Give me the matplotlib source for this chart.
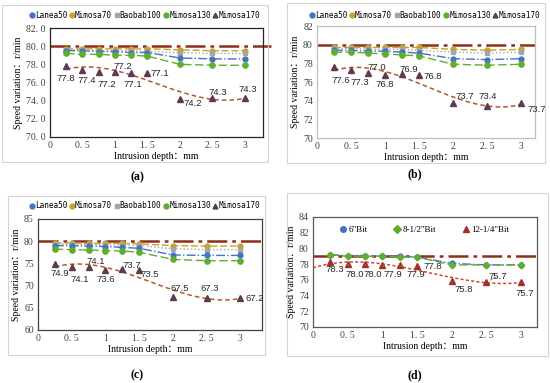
import numpy as np
import matplotlib
matplotlib.use("Agg")
import matplotlib.pyplot as plt
from matplotlib.patches import Rectangle

# ---------------- data ----------------
depth = [0.25, 0.5, 0.75, 1.0, 1.25, 1.5, 2.0, 2.5, 3.0]
xtick_vals = [0, 0.5, 1, 1.5, 2, 2.5, 3]
xtick_labels = ["0", "0. 5", "1", "1. 5", "2", "2. 5", "3"]

names_abc = ["Lanea50", "Mimosa70", "Baobab100", "Mimosa130", "Mimosa170"]

a_lanea50 = [79.5, 79.5, 79.4, 79.4, 79.3, 79.3, 78.7, 78.6, 78.6]
a_mimosa70 = [79.7, 79.7, 79.7, 79.7, 79.7, 79.7, 79.6, 79.5, 79.5]
a_baobab100 = [79.6, 79.6, 79.5, 79.5, 79.5, 79.4, 79.3, 79.2, 79.2]
a_mimosa130 = [79.2, 79.1, 79.1, 79.0, 79.0, 78.9, 78.0, 77.9, 77.9]
a_mimosa170 = [77.8, 77.4, 77.2, 77.2, 77.1, 77.1, 74.2, 74.3, 74.3]

b_lanea50 = [79.4, 79.4, 79.3, 79.3, 79.2, 79.1, 78.5, 78.4, 78.5]
b_mimosa70 = [79.7, 79.7, 79.7, 79.7, 79.7, 79.7, 79.5, 79.4, 79.5]
b_baobab100 = [79.6, 79.6, 79.5, 79.5, 79.5, 79.4, 79.2, 79.1, 79.2]
b_mimosa130 = [79.2, 79.2, 79.1, 79.0, 78.9, 78.8, 77.9, 77.8, 77.9]
b_mimosa170 = [77.6, 77.3, 77.0, 76.8, 76.9, 76.8, 73.7, 73.4, 73.7]

c_lanea50 = [79.0, 79.0, 78.9, 78.8, 78.6, 78.4, 76.9, 76.8, 76.8]
c_mimosa70 = [79.6, 79.6, 79.5, 79.5, 79.5, 79.4, 79.0, 78.9, 78.9]
c_baobab100 = [79.3, 79.3, 79.2, 79.2, 79.1, 79.0, 78.3, 78.1, 78.1]
c_mimosa130 = [78.2, 78.1, 78.0, 77.9, 77.8, 77.5, 75.9, 75.6, 75.6]
c_mimosa170 = [74.9, 74.1, 74.1, 73.6, 73.7, 73.5, 67.5, 67.3, 67.2]

names_d = ['6"Bit', '8-1/2"Bit', '12-1/4"Bit']
d_bit6 = [79.2, 79.1, 79.1, 79.0, 79.0, 78.9, 78.1, 77.9, 77.9]
d_bit85 = [79.2, 79.0, 79.0, 79.0, 78.9, 78.9, 77.9, 77.9, 77.9]
d_bit1225 = [78.3, 78.0, 78.0, 77.9, 77.9, 77.8, 75.8, 75.7, 75.7]

rated_abc = 80.0
rated_d = 79.0

# ---------------- style ----------------
C_BLUE = "#4472C4"
C_GOLD = "#C9A02A"
C_GREY = "#A5A5A5"
C_GREEN = "#5FAE2E"
C_PURPLE = "#5E3A55"
C_TREND = "#B5582A"
C_RATED = "#8E2F1A"
C_RED = "#A0302A"

TICKFONT = ["Liberation Serif", "Noto Sans CJK SC"]
LABFONT = ["Liberation Serif", "Noto Sans CJK SC"]
DATAFONT = ["Liberation Sans"]

W, H = 550, 383
fig = plt.figure(figsize=(W / 100, H / 100), dpi=100)


def px_rect(l, t, r, b):
    return [l / W, 1 - b / H, (r - l) / W, (b - t) / H]


def box(l, t, r, b):
    fig.patches.append(Rectangle((l / W, 1 - b / H), (r - l) / W, (b - t) / H,
                                 transform=fig.transFigure, fill=False,
                                 edgecolor="#d4d4d4", lw=0.8))


def caption(x, y, letter):
    fig.text(x / W, 1 - y / H, "(" + letter + ")", ha="center", va="center",
             family=["Liberation Serif"], fontsize=8.5, fontweight="bold")


def setup(ax, ylim, yticks, ylabels, xmax, frame_color):
    ax.set_xlim(0, xmax)
    ax.set_ylim(*ylim)
    ax.set_xticks(xtick_vals)
    ax.set_xticklabels(xtick_labels, family=TICKFONT, fontsize=7)
    ax.set_yticks(yticks)
    ax.set_yticklabels(ylabels, family=TICKFONT, fontsize=7, color="#404040")
    for lab in ax.get_xticklabels():
        lab.set_color("#404040")
    ax.tick_params(length=0, pad=3)
    for sp in ax.spines.values():
        sp.set_color(frame_color)
        sp.set_linewidth(0.9)
    ax.set_xlabel("Intrusion depth：mm", family=LABFONT, fontsize=7, labelpad=1)
    ax.set_ylabel("Speed variation：r/min", family=LABFONT, fontsize=7, labelpad=2)


def plot_five(ax, s, trend_x0=0.25):
    ax.plot(depth, s[1], color=C_GOLD, ls=(0, (5, 2)), lw=1.0, marker="o", ms=3.5, zorder=3)
    ax.plot(depth, s[2], color=C_GREY, ls=":", lw=1.0, marker="s", ms=3.2, zorder=3)
    ax.plot(depth, s[0], color=C_BLUE, ls="-.", lw=1.0, marker="o", ms=3.5, zorder=3)
    ax.plot(depth, s[3], color=C_GREEN, ls=(0, (6, 2.5)), lw=1.0, marker="o", ms=3.8, zorder=3)
    ax.plot(depth, s[4], color=C_PURPLE, ls="none", marker="^", ms=5, zorder=4)
    coef = np.polyfit(depth, s[4], 3)
    xs = np.linspace(trend_x0, 3, 100)
    ax.plot(xs, np.polyval(coef, xs), color=C_TREND, ls=(0, (3, 2)), lw=1.1, zorder=2)


def legend_row(x, y, labels, colors, markers):
    handles = [plt.Line2D([], [], color=c, marker=m, ls="none", ms=3.5)
               for c, m in zip(colors, markers)]
    fig.legend(handles, labels, loc="center", bbox_to_anchor=(x / W, 1 - y / H),
               ncol=len(labels), frameon=False, prop={"family": "DejaVu Sans Mono", "size": 5.6},
               handlelength=0.5, handletextpad=0.15, columnspacing=0.35, borderpad=0)


def data_labels(ax, xs, ys, offsets, leaders=()):
    for i, (x, y, off) in enumerate(zip(xs, ys, offsets)):
        kw = {}
        if i in leaders:
            kw["arrowprops"] = dict(arrowstyle="-", color="#7f7f7f", lw=0.5, shrinkA=1, shrinkB=3)
        ax.annotate(f"{y:.1f}", (x, y), xytext=off, textcoords="offset points",
                    ha="center", va="center", family=DATAFONT, fontsize=6.8,
                    color="#262626", zorder=6, **kw)


rated_style = dict(color=C_RATED, ls=(0, (8, 2, 1.5, 2)), lw=1.8, zorder=2.5)

# ---------------- panel (a) ----------------
box(2, 5, 268, 162)
axa = fig.add_axes(px_rect(50, 28, 263, 137))
plot_five(axa, [a_lanea50, a_mimosa70, a_baobab100, a_mimosa130, a_mimosa170])
axa.plot([0, 3.4], [rated_abc, rated_abc], clip_on=False, **rated_style)
setup(axa, (70, 82), np.arange(70, 83, 2), [f"{v:.1f}".replace(".", ". ") for v in range(70, 83, 2)],
      3.28, "#262626")
data_labels(axa, depth, a_mimosa170,
            [(0, -9), (3, -8), (6, -9), (6, 4), (1.5, -8.5), (9, -1), (9.5, -3), (4, 4), (2, 6)])
legend_row(145, 15, names_abc, [C_BLUE, C_GOLD, C_GREY, C_GREEN, C_PURPLE], ["o", "o", "s", "o", "^"])
caption(137, 177, "a")

# ---------------- panel (b) ----------------
box(287, 3, 545, 163)
axb = fig.add_axes(px_rect(317, 26, 535, 138))
plot_five(axb, [b_lanea50, b_mimosa70, b_baobab100, b_mimosa130, b_mimosa170])
axb.plot([0, 3.2], [rated_abc, rated_abc], **rated_style)
setup(axb, (70, 82), np.arange(70, 83, 2), [str(v) for v in range(70, 83, 2)], 3.2, "#bfbfbf")
data_labels(axb, depth, b_mimosa170,
            [(5, -10), (6, -9), (6, 3.6), (0, -7), (5, 3), (10, -1.5), (8.4, 4.8), (0, 6.7), (10.8, -4)],
            leaders=(1,))
legend_row(425, 15, names_abc, [C_BLUE, C_GOLD, C_GREY, C_GREEN, C_PURPLE], ["o", "o", "s", "o", "^"])
caption(415, 174, "b")

# ---------------- panel (c) ----------------
box(8, 196, 265, 355)
axc = fig.add_axes(px_rect(38, 219, 262, 330))
plot_five(axc, [c_lanea50, c_mimosa70, c_baobab100, c_mimosa130, c_mimosa170])
axc.plot([0, 3.32], [rated_abc, rated_abc], **rated_style)
setup(axc, (60, 85), np.arange(60, 86, 5), [str(v) for v in range(60, 86, 5)], 3.32, "#404040")
data_labels(axc, depth, c_mimosa170,
            [(3.6, -7.2), (6, -9), (5.3, 4), (0.5, -7.2), (6.5, 2.5), (7.2, -3), (4.8, 5.8), (2, 6.5), (10.3, 0)],
            leaders=(1,))
legend_row(145, 206, names_abc, [C_BLUE, C_GOLD, C_GREY, C_GREEN, C_PURPLE], ["o", "o", "s", "o", "^"])
caption(137, 375, "c")

# ---------------- panel (d) ----------------
box(287, 193, 548, 356)
axd = fig.add_axes(px_rect(313, 217, 537, 327))
axd.plot(depth, d_bit6, color=C_BLUE, ls="-.", lw=1.0, marker="o", ms=3.5, zorder=3)
axd.plot(depth, d_bit85, color=C_GREEN, ls=(0, (6, 2.5)), lw=1.0, marker="D", ms=3.3, zorder=3)
axd.plot(depth, d_bit1225, color=C_RED, ls="none", marker="^", ms=5, zorder=4)
coef_d = np.polyfit(depth, d_bit1225, 3)
xs_d = np.linspace(0, 3, 100)
axd.plot(xs_d, np.polyval(coef_d, xs_d), color="#D2452A", ls=(0, (2, 1.5)), lw=1.1, zorder=2)
axd.plot([0, 3.23], [rated_d, rated_d], **rated_style)
setup(axd, (70, 84), np.arange(70, 85, 2), [str(v) for v in range(70, 85, 2)], 3.23, "#595959")
data_labels(axd, depth, d_bit1225,
            [(3, -5.8), (5.3, -7.2), (5.3, -7.2), (7.4, -7.2), (11.5, -7.2), (11, -0.7), (8.4, -5.5), (8, 4.3), (3, -8.2)],
            leaders=(1, 2, 3, 4, 6, 7))
handles_d = [plt.Line2D([], [], color=c, marker=m, ls="none", ms=4)
             for c, m in zip([C_BLUE, C_GREEN, C_RED], ["o", "D", "^"])]
axd.legend(handles_d, names_d, loc="center", bbox_to_anchor=(0.5, 0.88), ncol=3, frameon=False,
           prop={"family": "Liberation Serif", "size": 6.5}, handlelength=0.6,
           handletextpad=0.3, columnspacing=3.0, borderpad=0)
caption(415, 375, "d")

fig.savefig("out.png", dpi=100)
